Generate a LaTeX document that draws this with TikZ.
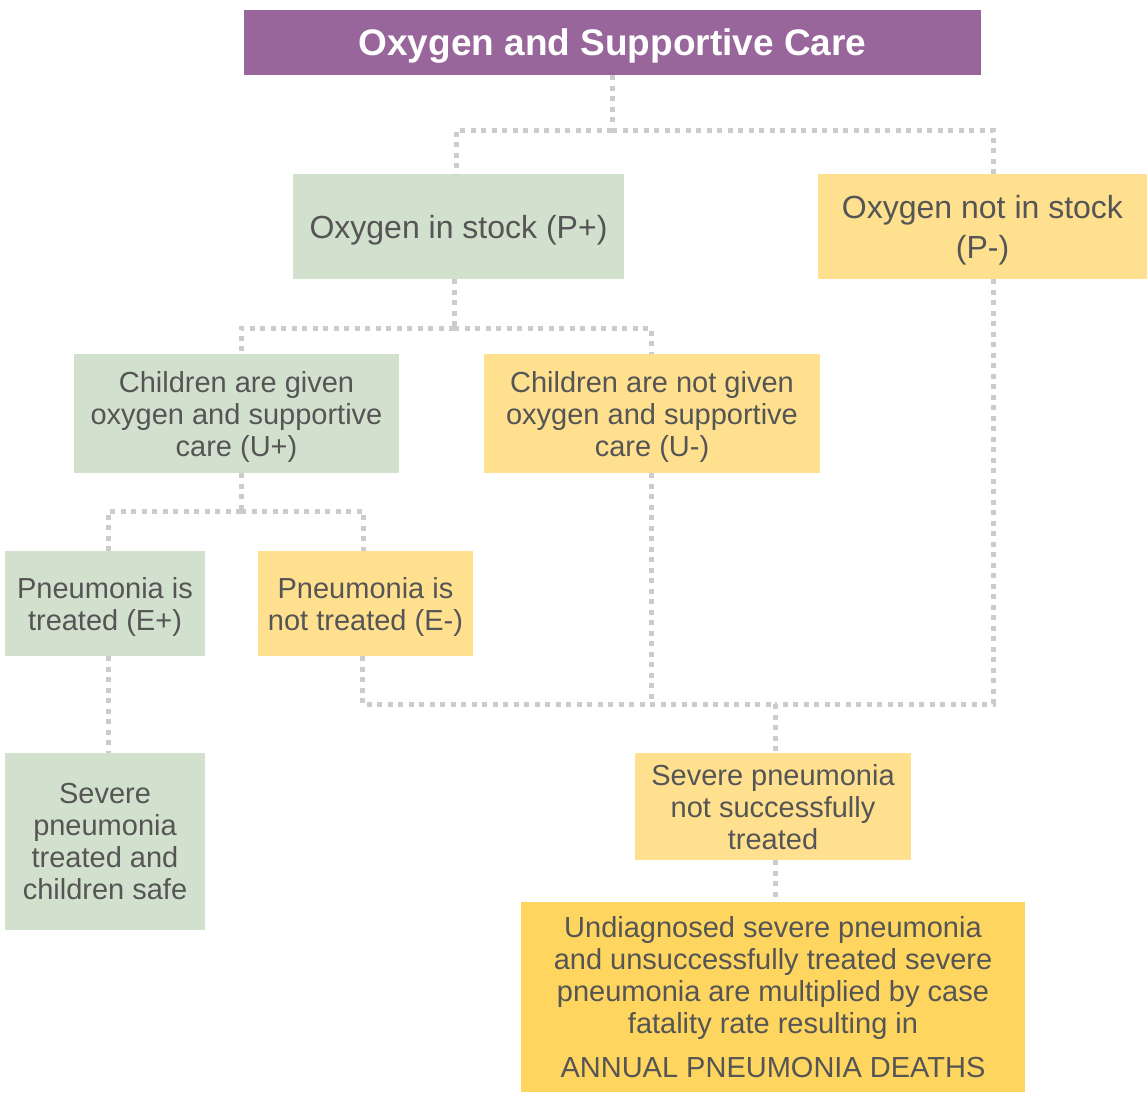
\documentclass[tikz,border=0pt]{standalone}
\usepackage{fontspec}
\setmainfont{Liberation Sans}
\definecolor{headpurple}{HTML}{98669A}
\definecolor{boxgreen}{HTML}{D2E1CD}
\definecolor{boxyellow}{HTML}{FEE08F}
\definecolor{boxgold}{HTML}{FED55E}
\definecolor{textgrey}{HTML}{555555}
\definecolor{linkgrey}{HTML}{CCCCCC}
\begin{document}
\begin{tikzpicture}[x=1pt,y=-1pt,
  box/.style={rectangle, inner sep=0pt, align=center, text=textgrey,
    text depth=-2pt, font=\fontsize{29}{32}\selectfont},
  good/.style={box, fill=boxgreen},
  bad/.style={box, fill=boxyellow},
  link/.style={linkgrey, line width=5pt, dash pattern=on 5pt off 5.5pt}]
\useasboundingbox (0,0) rectangle (1147,1093);

% header
\node[rectangle, fill=headpurple, minimum width=737pt, minimum height=65pt,
  text=white, text depth=-2pt, font=\fontsize{37}{40}\bfseries\selectfont] (title) at (612.5,42.5)
  {Oxygen and Supportive Care};

% level 1: stock
\node[good, minimum width=331pt, minimum height=105pt,
  font=\fontsize{32}{40}\selectfont] (stock) at (458.5,226.5) {Oxygen in stock (P+)};
\node[bad, minimum width=329pt, minimum height=105pt,
  font=\fontsize{32}{40}\selectfont] (nostock) at (982.5,226.5) {Oxygen not in stock\\(P-)};

% level 2: use
\node[good, minimum width=325pt, minimum height=119pt] (given) at (236.5,413.5)
  {Children are given\\oxygen and supportive\\care (U+)};
\node[bad, minimum width=336pt, minimum height=119pt] (notgiven) at (652,413.5)
  {Children are not given\\oxygen and supportive\\care (U-)};

% level 3: effectiveness
\node[good, minimum width=200pt, minimum height=105pt] (treated) at (105,603.5)
  {Pneumonia is\\treated (E+)};
\node[bad, minimum width=215pt, minimum height=105pt] (nottreated) at (365.5,603.5)
  {Pneumonia is\\not treated (E-)};

% outcomes
\node[good, minimum width=200pt, minimum height=177pt] (safe) at (105,841.5)
  {Severe\\pneumonia\\treated and\\children safe};
\node[bad, minimum width=276pt, minimum height=107pt] (fail) at (773,806.5)
  {Severe pneumonia\\not successfully\\treated};
\node[box, fill=boxgold, minimum width=504pt, minimum height=190pt] (deaths) at (773,997)
  {Undiagnosed severe pneumonia\\and unsuccessfully treated severe\\pneumonia are multiplied by case\\fatality rate resulting in\\[12pt]ANNUAL PNEUMONIA DEATHS};

% junction points
\coordinate (j1) at (612,130);
\coordinate (j2) at (454,328);
\coordinate (j3) at (241,511);
\coordinate (j4) at (775,704);

% connectors
\draw[link] (title.south -| j1) -- (j1);
\draw[link] (j1) -| ([xshift=-2.5pt]stock.north);
\draw[link] (j1) -| ([xshift=10.5pt]nostock.north);

\draw[link] (stock.south -| j2) -- (j2);
\draw[link] (j2) -| ([xshift=4.5pt]given.north);
\draw[link] (j2) -| ([xshift=-1pt]notgiven.north);

\draw[link] (given.south -| j3) -- (j3);
\draw[link] (j3) -| ([xshift=3pt]treated.north);
\draw[link] (j3) -| ([xshift=-2.5pt]nottreated.north);

\draw[link] ([xshift=3pt]treated.south) -- ([xshift=3pt]safe.north);

\draw[link] ([xshift=-3.5pt]nottreated.south) |- (j4);
\draw[link] ([xshift=-1pt]notgiven.south) -- ([xshift=-1pt]notgiven.south |- j4);
\draw[link] ([xshift=10.5pt]nostock.south) |- (j4);
\draw[link] (j4) -- ([xshift=2pt]fail.north);

\draw[link] ([xshift=2pt]fail.south) -- ([xshift=2pt]fail.south |- deaths.north);
\end{tikzpicture}
\end{document}
